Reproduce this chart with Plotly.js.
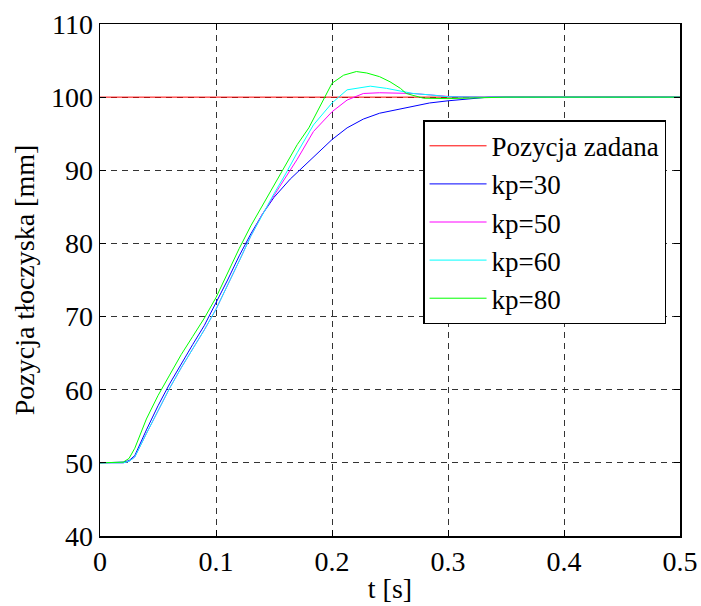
<!DOCTYPE html>
<html>
<head>
<meta charset="utf-8">
<script src="https://cdn.plot.ly/plotly-3.0.1.min.js"></script>
<style>
html,body{margin:0;padding:0;background:#fff;}
#chart{width:701px;height:606px;}
svg text{font-family:'Liberation Serif' !important;}
</style>
</head>
<body>
<div id="chart"></div>
<script>
// Reference position (Pozycja zadana)
const tRef = [0, 0.5];
const yRef = [100, 100];

// kp=30 (blue)
const t30 = [0, 0.02, 0.025, 0.03, 0.04, 0.05, 0.06, 0.07, 0.08, 0.09, 0.1, 0.11, 0.12, 0.13, 0.14, 0.15, 0.164, 0.184, 0.2, 0.213, 0.227, 0.241, 0.256, 0.27, 0.284, 0.3, 0.32, 0.335, 0.4, 0.5];
const y30 = [50, 50.1, 50.3, 51, 54.5, 57.8, 60.8, 63.6, 66.2, 68.8, 71.8, 75, 78.3, 81.3, 84, 86.3, 88.8, 91.8, 94.2, 95.8, 97.0, 97.8, 98.3, 98.8, 99.2, 99.5, 99.8, 100, 100, 100];

// kp=50 (magenta)
const t50 = [0, 0.02, 0.025, 0.03, 0.04, 0.05, 0.06, 0.07, 0.08, 0.09, 0.1, 0.11, 0.12, 0.13, 0.14, 0.155, 0.17, 0.184, 0.2, 0.213, 0.227, 0.241, 0.27, 0.3, 0.33, 0.4, 0.5];
const y50 = [50, 50, 50.2, 50.8, 54, 57.2, 60.2, 63, 65.6, 68.2, 71, 74.2, 77.6, 81, 84, 87.8, 91.5, 95.3, 98.0, 99.6, 100.5, 100.6, 100.5, 100.1, 100, 100, 100];

// kp=60 (cyan)
const t60 = [0, 0.02, 0.025, 0.03, 0.04, 0.05, 0.06, 0.07, 0.08, 0.09, 0.1, 0.11, 0.12, 0.13, 0.14, 0.15, 0.16, 0.17, 0.184, 0.2, 0.213, 0.233, 0.247, 0.27, 0.285, 0.3, 0.33, 0.4, 0.5];
const y60 = [50, 50, 50.2, 50.8, 54, 57.2, 60.2, 63, 65.6, 68.2, 71, 74.2, 77.6, 81, 84, 86.8, 89.5, 92.4, 96.2, 99.2, 101, 101.5, 101.2, 100.5, 100.3, 100.05, 100, 100, 100];

// kp=80 (green)
const t80 = [0, 0.02, 0.025, 0.03, 0.04, 0.05, 0.06, 0.07, 0.08, 0.09, 0.1, 0.11, 0.12, 0.13, 0.14, 0.15, 0.16, 0.17, 0.18, 0.19, 0.2, 0.21, 0.221, 0.23, 0.241, 0.25, 0.259, 0.264, 0.279, 0.3, 0.32, 0.35, 0.4, 0.5];
const y80 = [50, 50.1, 50.6, 52, 56, 59.2, 62, 64.8, 67.3, 69.8, 72.6, 76, 79.3, 82.4, 85.2, 88, 90.8, 93.5, 95.8, 98.8, 101.9, 103, 103.5, 103.3, 102.8, 102.1, 101.2, 100.5, 99.85, 99.8, 99.9, 100, 100, 100];

const names = ['Pozycja zadana', 'kp=30', 'kp=50', 'kp=60', 'kp=80'];
const colors = ['#ff0000', '#0000ff', '#ff00ff', '#00ffff', '#00ff00'];
const xTicks = [0, 0.1, 0.2, 0.3, 0.4, 0.5];
const xTickText = ['0', '0.1', '0.2', '0.3', '0.4', '0.5'];
const yTicks = [40, 50, 60, 70, 80, 90, 100, 110];

const xs = [tRef, t30, t50, t60, t80];
const ys = [yRef, y30, y50, y60, y80];
const traces = xs.map((x, i) => ({
  x: x, y: ys[i], type: 'scatter', mode: 'lines', name: names[i],
  line: {color: colors[i], width: 1}
}));

function mkFont(size) { return {family: 'Liberation Serif', size: size, color: '#000'}; }
function axisCommon() {
  return {
    showline: true, linecolor: '#000', linewidth: 1.5, mirror: 'ticks',
    ticks: 'inside', ticklen: 6, tickcolor: '#000', tickwidth: 1,
    showgrid: true, gridcolor: '#333', gridwidth: 1, griddash: '6px,5px',
    zeroline: false, tickfont: mkFont(28)
  };
}

const layout = {
  width: 701, height: 606,
  margin: {l: 100, r: 21, t: 24, b: 70},
  paper_bgcolor: '#fff', plot_bgcolor: '#fff',
  font: mkFont(28),
  showlegend: true,
  legend: {
    x: 0.557, y: 0.812, xanchor: 'left', yanchor: 'top',
    bgcolor: '#fff', bordercolor: '#000', borderwidth: 1.5,
    font: mkFont(27), itemwidth: 57, tracegroupgap: 0
  },
  xaxis: Object.assign(axisCommon(), {
    range: [0, 0.5], tickvals: xTicks, ticktext: xTickText,
    title: {text: 't [s]', font: mkFont(28), standoff: 2}
  }),
  yaxis: Object.assign(axisCommon(), {
    range: [40, 110], tickvals: yTicks,
    title: {text: 'Pozycja tłoczyska [mm]', font: mkFont(28), standoff: 8}
  })
};

Plotly.newPlot('chart', traces, layout, {displayModeBar: false, staticPlot: true});
</script>
</body>
</html>
